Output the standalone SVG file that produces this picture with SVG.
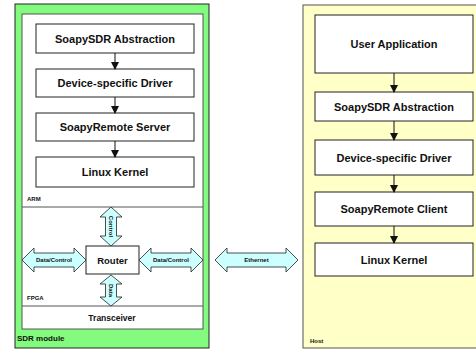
<svg xmlns="http://www.w3.org/2000/svg" width="476" height="350" viewBox="0 0 476 350">
<defs>
<style>
.box{fill:#fff;stroke:#222;stroke-width:1}
.t{font-family:"Liberation Sans",Arial,sans-serif;font-weight:bold;fill:#111;text-anchor:middle}
.bt{font-size:11px}
.sm{font-size:6px;text-anchor:start}
.ba{fill:#ccffff;stroke:#222;stroke-width:0.8}
.ln{stroke:#111;stroke-width:1}
</style>
<marker id="ah" markerWidth="8" markerHeight="8" refX="7" refY="4" orient="auto" markerUnits="userSpaceOnUse">
<path d="M0,0 L8,4 L0,8 Z" fill="#111"/>
</marker>
</defs>
<g id="sdr-module">
<rect x="15" y="4" width="194" height="344" fill="#82fb7e" stroke="#222" stroke-width="1"/>
<rect x="22" y="14" width="181" height="315" fill="#fff" stroke="#555" stroke-width="1"/>
<line x1="22" y1="207" x2="203" y2="207" stroke="#555" stroke-width="1"/>
<line x1="22" y1="306" x2="203" y2="306" stroke="#555" stroke-width="1"/>
<text class="t" x="17" y="341" style="font-size:8px;text-anchor:start">SDR module</text>
<text class="t sm" x="27" y="201">ARM</text>
<text class="t sm" x="27" y="300">FPGA</text>
<text class="t" x="112" y="321" style="font-size:8.5px">Transceiver</text>
</g>
<g id="host">
<rect x="303" y="5" width="180" height="343" fill="#ffffc8" stroke="#555" stroke-width="1"/>
<text class="t sm" x="310" y="343">Host</text>
</g>
<g id="l-abstraction"><rect class="box" x="36" y="24" width="158" height="29"/><text class="t bt" x="115" y="42.5">SoapySDR Abstraction</text></g>
<g id="l-driver"><rect class="box" x="36" y="69" width="158" height="28"/><text class="t bt" x="115" y="87">Device-specific Driver</text></g>
<g id="l-server"><rect class="box" x="36" y="113" width="158" height="28"/><text class="t bt" x="115" y="131">SoapyRemote Server</text></g>
<g id="l-kernel"><rect class="box" x="36" y="157" width="158" height="30"/><text class="t bt" x="115" y="176">Linux Kernel</text></g>
<g id="router"><rect class="box" x="86" y="246" width="53" height="28"/><text class="t" x="112.5" y="263.5" style="font-size:9.5px">Router</text></g>
<g id="r-app"><rect class="box" x="315" y="15" width="158" height="58"/><text class="t bt" x="394" y="48">User Application</text></g>
<g id="r-abstraction"><rect class="box" x="315" y="92" width="158" height="29"/><text class="t bt" x="394" y="110.5">SoapySDR Abstraction</text></g>
<g id="r-driver"><rect class="box" x="315" y="140" width="158" height="35"/><text class="t bt" x="394" y="161.5">Device-specific Driver</text></g>
<g id="r-client"><rect class="box" x="315" y="192" width="158" height="34"/><text class="t bt" x="394" y="213">SoapyRemote Client</text></g>
<g id="r-kernel"><rect class="box" x="315" y="243" width="158" height="33"/><text class="t bt" x="394" y="263.5">Linux Kernel</text></g>
<g id="connectors">
<line class="ln" x1="115" y1="53" x2="115" y2="69" marker-end="url(#ah)"/>
<line class="ln" x1="115" y1="97" x2="115" y2="113" marker-end="url(#ah)"/>
<line class="ln" x1="115" y1="141" x2="115" y2="157" marker-end="url(#ah)"/>
<line class="ln" x1="394" y1="73" x2="394" y2="92" marker-end="url(#ah)"/>
<line class="ln" x1="394" y1="121" x2="394" y2="140" marker-end="url(#ah)"/>
<line class="ln" x1="394" y1="175" x2="394" y2="192" marker-end="url(#ah)"/>
<line class="ln" x1="394" y1="226" x2="394" y2="243" marker-end="url(#ah)"/>
<polygon class="ba" points="22,260 34,248 34,253 74,253 74,248 86,260 74,272 74,267 34,267 34,272"/>
<text class="t" x="54" y="262" style="font-size:6px">Data/Control</text>
<polygon class="ba" points="139,260 151,248 151,253 191,253 191,248 203,260 191,272 191,267 151,267 151,272"/>
<text class="t" x="171" y="262" style="font-size:6px">Data/Control</text>
<polygon class="ba" points="215,260 227,248 227,253 286,253 286,248 298,260 286,272 286,267 227,267 227,272"/>
<text class="t" x="256.5" y="262" style="font-size:6px">Ethernet</text>
<polygon class="ba" points="111,207 122,217 116.5,217 116.5,236 122,236 111,246 100,236 105.5,236 105.5,217 100,217"/>
<text class="t" transform="translate(109,226.5) rotate(90)" style="font-size:6px">Control</text>
<polygon class="ba" points="111,275 122,284 116.5,284 116.5,297 122,297 111,306 100,297 105.5,297 105.5,284 100,284"/>
<text class="t" transform="translate(109,290.5) rotate(90)" style="font-size:6px">Data</text>
</g>
</svg>
